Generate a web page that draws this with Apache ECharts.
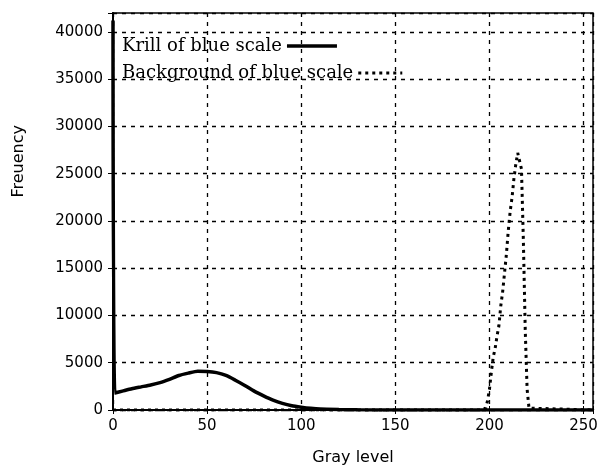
<!DOCTYPE html>
<html>
<head>
<meta charset="utf-8">
<script src="https://cdn.jsdelivr.net/npm/echarts@6/dist/echarts.min.js"></script>
<style>
  html, body { margin: 0; padding: 0; background: #fff; }
  #chart { width: 600px; height: 466px; }
</style>
</head>
<body>
<div id="chart"></div>
<script>
// gray level histogram
const krillX = [0, 1, 5, 10, 15, 20, 25, 30, 35, 40, 45, 50, 55, 60, 65, 70, 75, 80, 85, 90, 95, 100, 105, 110, 120, 130, 150, 200, 255];
const krillY = [41200, 1800, 2000, 2250, 2450, 2650, 2900, 3250, 3650, 3900, 4100, 4080, 3950, 3650, 3150, 2600, 2000, 1500, 1050, 700, 450, 300, 180, 100, 50, 20, 0, 0, 0];

const backX = [0, 196, 198, 199, 200, 201, 202, 203, 204, 205, 206, 207, 208, 209, 210, 211, 212, 213, 214, 215, 216, 217, 218, 219, 220, 221, 222, 255];
const backY = [0, 0, 200, 1000, 2200, 4000, 5600, 6500, 7800, 8900, 11000, 12500, 14500, 16500, 19000, 21000, 22500, 24500, 26000, 27200, 27000, 25500, 18000, 8500, 2200, 200, 0, 0];

const names = ['Krill of blue scale', 'Background of blue scale'];
const xTicks = [0, 50, 100, 150, 200, 250];
const yTicks = [0, 5000, 10000, 15000, 20000, 25000, 30000, 35000, 40000];

const pair = (xs, ys) => xs.map((x, i) => [x, ys[i]]);

let myChart = echarts.init(document.getElementById('chart'));

const tickFont = {
  fontFamily: 'DejaVu Sans',
  fontSize: 15,
  color: '#000'
};
const gridDash = {
  show: true,
  lineStyle: { color: '#000', width: 1.3, type: [4, 5] }
};
// 图例：文字在左，线在右，两行左对齐
const legendBase = {
  orient: 'vertical',
  left: 122,
  align: 'right',
  itemWidth: 50,
  itemHeight: 14,
  padding: 0,
  itemStyle: { opacity: 0 },
  textStyle: {
    fontFamily: 'DejaVu Serif',
    fontSize: 18,
    color: '#000'
  }
};

let option = {
  animation: false,
  grid: { // 框线
    left: 113,
    top: 13,
    right: 7,
    bottom: 56,
    outerBoundsMode: 'none',
    show: true,
    borderColor: '#000',
    borderWidth: 1.5
  },
  legend: [
    { ...legendBase, data: [names[0]], top: 37, lineStyle: { width: 3.5 } },
    { ...legendBase, data: [names[1]], top: 64, itemWidth: 44, lineStyle: { width: 3 } }
  ],
  xAxis: [{
    type: 'value',
    min: 0,
    max: 255,
    interval: 50,
    name: 'Gray level',
    nameLocation: 'middle',
    nameGap: 40,
    nameTextStyle: { fontFamily: 'DejaVu Sans', fontSize: 16, color: '#000' },
    axisLine: { show: true, lineStyle: { color: '#000', width: 2 } },
    axisTick: { show: true, inside: true, length: 4, lineStyle: { color: '#000' } },
    axisLabel: {
      ...tickFont,
      margin: 9,
      formatter: v => xTicks.includes(v) ? String(v) : ''
    },
    splitLine: gridDash
  }, {
    type: 'value',
    position: 'top',
    min: 0,
    max: 255,
    interval: 50,
    axisLine: { show: true, lineStyle: { color: '#000', width: 1.5 } },
    axisTick: { show: true, inside: true, length: 4, lineStyle: { color: '#000' } },
    axisLabel: { show: false },
    splitLine: { show: false }
  }],
  yAxis: [{
    type: 'value',
    min: 0,
    max: 42000,
    interval: 5000,
    axisLine: { show: true, lineStyle: { color: '#000', width: 2 } },
    axisTick: { show: true, inside: true, length: 4, lineStyle: { color: '#000' } },
    axisLabel: {
      ...tickFont,
      margin: 10,
      formatter: v => yTicks.includes(v) ? String(v) : ''
    },
    splitLine: gridDash
  }, {
    type: 'value',
    position: 'right',
    min: 0,
    max: 42000,
    interval: 5000,
    axisLine: { show: true, lineStyle: { color: '#000', width: 1.5 } },
    axisTick: { show: true, inside: true, length: 5, lineStyle: { color: '#000' } },
    axisLabel: { show: false },
    splitLine: { show: false }
  }],
  graphic: [{
    type: 'text',
    left: 11,
    top: 125,
    rotation: Math.PI / 2,
    style: {
      text: 'Freuency',
      fontFamily: 'DejaVu Sans',
      fontSize: 16,
      fill: '#000'
    }
  }],
  series: [{
    name: names[0],
    type: 'line',
    symbol: 'none',
    smooth: 0.2,
    lineStyle: { color: '#000', width: 3.5 },
    itemStyle: { color: '#000' },
    data: pair(krillX, krillY)
  }, {
    name: names[1],
    type: 'line',
    symbol: 'none',
    lineStyle: { color: '#000', width: 3, type: [3, 4] },
    itemStyle: { color: '#000' },
    data: pair(backX, backY)
  }]
};
myChart.setOption(option);
</script>
</body>
</html>
